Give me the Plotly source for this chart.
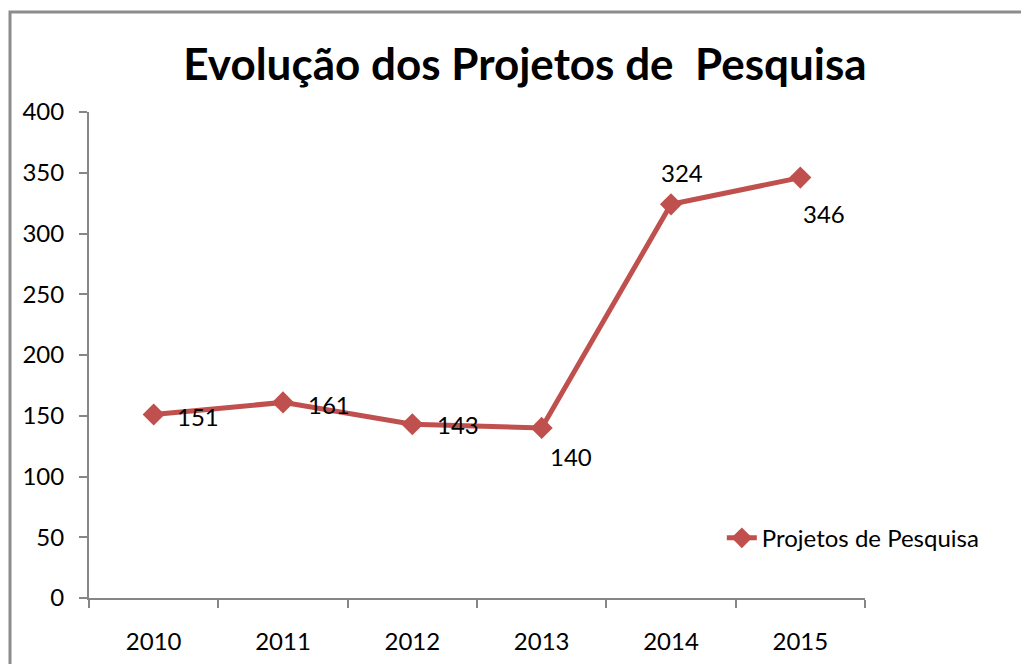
import plotly.graph_objects as go

years = ["2010", "2011", "2012", "2013", "2014", "2015"]
values = [151, 161, 143, 140, 324, 346]
series_name = "Projetos de Pesquisa"
title_text = "Evolução dos Projetos de  Pesquisa"

# label offsets (px) relative to each point
label_dx = [21, 23, 23, 6, -12, 1]
label_dy = [-2, -2, 0, -29, 32, -36]

RED = "#C0504D"
GRAY = "#868686"
FONT = "Lato, Noto Sans, sans-serif"

# page body has an 8px margin, so positions are shifted by 8px
L, T = 81, 104
PLOT_R, PLOT_B = 857, 590
W, H = 1029, 664

fig = go.Figure()
fig.add_trace(go.Scatter(
    x=years, y=values, name=series_name,
    mode="lines+markers",
    line=dict(color=RED, width=5),
    marker=dict(symbol="diamond", size=17, color=RED),
    cliponaxis=False,
))

annotations = []
for i, (v, dx, dy) in enumerate(zip(values, label_dx, label_dy)):
    annotations.append(dict(x=i, y=v, xref="x", yref="y", text=str(v), showarrow=False,
                            xanchor="left", yanchor="middle", xshift=dx, yshift=dy,
                            font=dict(family=FONT, size=24, color="black")))

plot_w = PLOT_R - L
plot_h = PLOT_B - T

fig.update_layout(
    width=W, height=H,
    paper_bgcolor="white", plot_bgcolor="white",
    margin=dict(l=L, r=W - PLOT_R, t=T, b=H - PLOT_B),
    font=dict(family=FONT, size=24, color="black"),
    title=dict(text="<b>" + title_text + "</b>", x=(525 - 8) / W, xanchor="center",
               y=1 - 57 / H, yanchor="middle", yref="container",
               font=dict(family=FONT, size=44, color="black")),
    showlegend=True,
    legend=dict(x=0.8155, y=0.123, xanchor="left", yanchor="middle",
                bgcolor="rgba(0,0,0,0)", font=dict(family=FONT, size=24, color="black")),
    xaxis=dict(type="category", range=[-0.5, 5.5], showline=True, linecolor=GRAY, linewidth=2,
               ticks="outside", tickson="boundaries", ticklen=8, tickcolor=GRAY, tickwidth=2,
               showgrid=False, zeroline=False, ticklabelstandoff=21,
               tickfont=dict(family=FONT, size=24, color="black")),
    yaxis=dict(range=[0, 400], dtick=50, showline=True, linecolor=GRAY, linewidth=2,
               ticks="outside", ticklen=8, tickcolor=GRAY, tickwidth=2,
               showgrid=False, zeroline=False, ticklabelstandoff=10,
               tickfont=dict(family=FONT, size=24, color="black")),
    annotations=annotations,
    shapes=[dict(type="rect", xref="paper", yref="paper",
                 x0=(2 - L) / plot_w, x1=1.4, y0=-0.3, y1=(PLOT_B - 4) / plot_h,
                 line=dict(color="#8C8C8C", width=3), fillcolor="rgba(0,0,0,0)", layer="below")],
)

fig.write_html("out.html")
